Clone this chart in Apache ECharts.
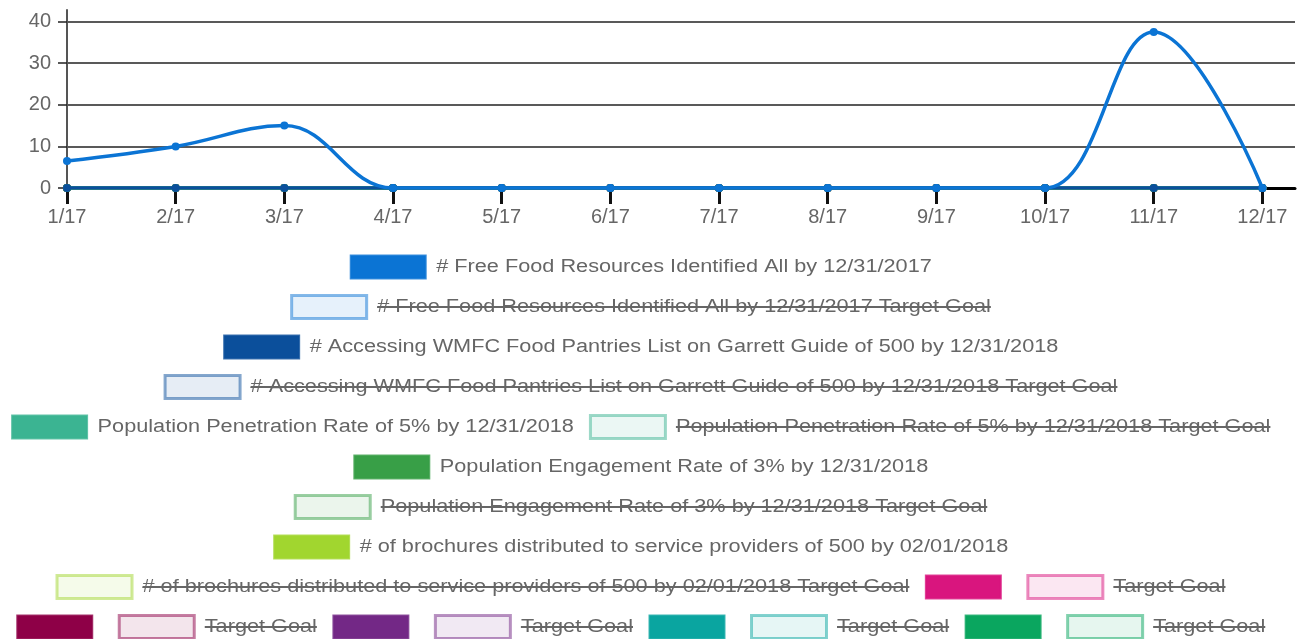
<!DOCTYPE html>
<html>
<head>
<meta charset="utf-8">
<script src="https://cdn.jsdelivr.net/npm/echarts@6/dist/echarts.min.js"></script>
<style>
  html, body { margin: 0; padding: 0; background: #fff; }
  #chart { width: 1303px; height: 639px; }
</style>
</head>
<body>
<div id="chart"></div>
<script>
// x categories and y ticks
var months = ["1/17", "2/17", "3/17", "4/17", "5/17", "6/17", "7/17", "8/17", "9/17", "10/17", "11/17", "12/17"];
var yTicks = [0, 10, 20, 30, 40];

// plotted series values
var freeFoodValues    = [6.5, 10, 15, 0, 0, 0, 0, 0, 0, 0, 37.5, 0];
var accessingValues   = [0, 0, 0, 0, 0, 0, 0, 0, 0, 0, 0, 0];
var penetrationValues = [0, 0, 0, 0, 0, 0, 0, 0, 0, 0, 0, 0];
var engagementValues  = [0, 0, 0, 0, 0, 0, 0, 0, 0, 0, 0, 0];
var brochureValues    = [0, 0, 0, 0, 0, 0, 0, 0, 0, 0, 0, 0];
var magentaValues     = [0, 0, 0, 0, 0, 0, 0, 0, 0, 0, 0, 0];
var maroonValues      = [0, 0, 0, 0, 0, 0, 0, 0, 0, 0, 0, 0];
var purpleValues      = [0, 0, 0, 0, 0, 0, 0, 0, 0, 0, 0, 0];
var tealValues        = [0, 0, 0, 0, 0, 0, 0, 0, 0, 0, 0, 0];
var greenValues       = [0, 0, 0, 0, 0, 0, 0, 0, 0, 0, 0, 0];

// legend entries (hidden = struck through, not drawn)
var legendNames = [
  "# Free Food Resources Identified All by 12/31/2017",
  "# Free Food Resources Identified All by 12/31/2017 Target Goal",
  "# Accessing WMFC Food Pantries List on Garrett Guide of 500 by 12/31/2018",
  "# Accessing WMFC Food Pantries List on Garrett Guide of 500 by 12/31/2018 Target Goal",
  "Population Penetration Rate of 5% by 12/31/2018",
  "Population Penetration Rate of 5% by 12/31/2018 Target Goal",
  "Population Engagement Rate of 3% by 12/31/2018",
  "Population Engagement Rate of 3% by 12/31/2018 Target Goal",
  "# of brochures distributed to service providers of 500 by 02/01/2018",
  "# of brochures distributed to service providers of 500 by 02/01/2018 Target Goal",
  "", "Target Goal",
  "", "Target Goal",
  "", "Target Goal",
  "", "Target Goal",
  "", "Target Goal"
];
var legendColors = [
  "#0b74d4", "#0b74d4",
  "#0b4f9b", "#0b4f9b",
  "#3bb492", "#3bb492",
  "#389f47", "#389f47",
  "#a1d62f", "#a1d62f",
  "#d9157e", "#d9157e",
  "#8e0047", "#8e0047",
  "#732886", "#732886",
  "#0aa5a0", "#0aa5a0",
  "#0aa65f", "#0aa65f"
];
var legendHidden = [false, true, false, true, false, true, false, true, false, true,
                    false, true, false, true, false, true, false, true, false, true];
var legendRows = [[0], [1], [2], [3], [4, 5], [6], [7], [8], [9, 10, 11], [12, 13, 14, 15, 16, 17, 18, 19]];

var plotted = [
  { item: 0, values: freeFoodValues },
  { item: 2, values: accessingValues },
  { item: 4, values: penetrationValues },
  { item: 6, values: engagementValues },
  { item: 8, values: brochureValues },
  { item: 10, values: magentaValues },
  { item: 12, values: maroonValues },
  { item: 14, values: purpleValues },
  { item: 16, values: tealValues },
  { item: 18, values: greenValues }
];

var FONT = '"Liberation Sans", Arial, sans-serif';
var AXIS_FS = 20;
var LEG_FS = 18;
var LEG_SX = 1.205; // reference text is stretched horizontally

function rgba(hex, a) {
  var n = parseInt(hex.slice(1), 16);
  return "rgba(" + (n >> 16) + "," + ((n >> 8) & 255) + "," + (n & 255) + "," + a + ")";
}

var measureCtx = document.createElement("canvas").getContext("2d");
measureCtx.font = LEG_FS + "px " + FONT;
function textWidth(t) {
  return t ? measureCtx.measureText(t).width * LEG_SX : 0;
}

// legend drawn as graphic elements (struck-through entries)
function buildLegend() {
  var els = [];
  var boxW = 78, boxH = 26, textGap = 9, itemGap = 15;
  legendRows.forEach(function (row, r) {
    var cy = 267 + r * 40;
    var widths = row.map(function (i) { return boxW + textGap + textWidth(legendNames[i]); });
    var total = widths.reduce(function (a, b) { return a + b; }, 0) + itemGap * (row.length - 1);
    var x = (1303 - total - 22) / 2;
    row.forEach(function (i, k) {
      var c = legendColors[i];
      var hidden = legendHidden[i];
      els.push({
        type: "rect",
        shape: { x: x + 1.5, y: cy - boxH / 2 + 1.5, width: boxW - 3, height: boxH - 3 },
        style: {
          fill: hidden ? rgba(c, 0.1) : c,
          stroke: hidden ? rgba(c, 0.5) : rgba(c, 0.8),
          lineWidth: hidden ? 3 : 2
        },
        silent: true
      });
      var name = legendNames[i];
      if (name) {
        var tx = x + boxW + textGap;
        var tw = textWidth(name);
        els.push({
          type: "text",
          x: tx, y: cy,
          scaleX: LEG_SX,
          style: { text: name, fill: "#666", font: LEG_FS + "px " + FONT, align: "left", verticalAlign: "middle" },
          silent: true
        });
        if (hidden) {
          els.push({
            type: "line",
            shape: { x1: tx, y1: cy, x2: tx + tw, y2: cy },
            style: { stroke: "#666", lineWidth: 2 },
            silent: true
          });
        }
      }
      x += widths[k] + itemGap;
    });
  });
  return els;
}

var chart = echarts.init(document.getElementById("chart"));

var series = plotted.map(function (p, k) {
  var c = legendColors[p.item];
  return {
    type: "line",
    name: legendNames[p.item] || ("series" + k),
    data: p.values.map(function (v, i) { return [i, v]; }),
    smooth: 0.4,
    symbol: "circle",
    symbolSize: 8,
    showSymbol: true,
    lineStyle: { color: c, width: 3.5 },
    itemStyle: { color: c },
    z: 30 - k,
    animation: false
  };
});

var monthIdx = months.map(function (m, i) { return i; });

chart.setOption({
  backgroundColor: "#fff",
  animation: false,
  grid: { left: 67, right: 8, top: 10, bottom: 451 },
  xAxis: {
    type: "value",
    min: 0,
    max: 11.3,
    axisLine: { show: true, onZero: false, lineStyle: { color: "#000", width: 3 } },
    axisTick: { show: true, length: 16, customValues: monthIdx, lineStyle: { color: "#111", width: 3 } },
    axisLabel: {
      customValues: monthIdx,
      formatter: function (v) { return months[v]; },
      color: "#666", fontSize: AXIS_FS, fontFamily: FONT, margin: 19
    },
    splitLine: { show: false }
  },
  yAxis: {
    type: "value",
    min: 0,
    max: 42.8,
    axisLine: { show: true, lineStyle: { color: "#555", width: 2 } },
    axisTick: { show: true, length: 9, customValues: yTicks, lineStyle: { color: "#222", width: 1.5 } },
    axisLabel: { customValues: yTicks, color: "#666", fontSize: AXIS_FS, fontFamily: FONT, margin: 16 },
    splitLine: { show: true, lineStyle: { color: "#222", width: 1.5 } }
  },
  series: series,
  graphic: buildLegend()
});
</script>
</body>
</html>
